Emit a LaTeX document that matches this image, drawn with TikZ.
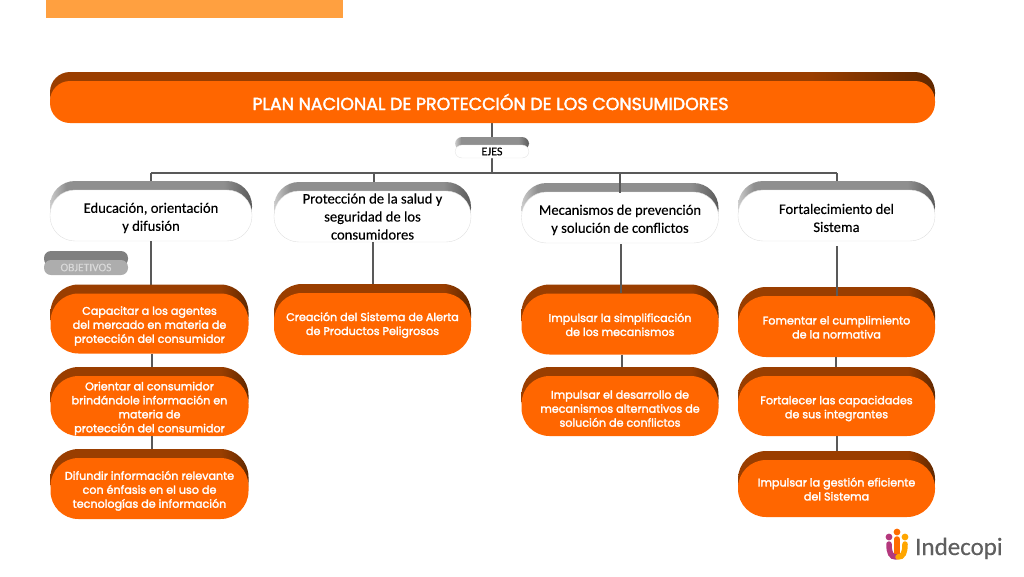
\documentclass[tikz,border=0pt]{standalone}
\usepackage{fontspec}
\setmainfont[FakeBold=0.25]{Carlito}
\newfontfamily\gothicfont[FakeBold=2.2]{Poppins}
\usetikzlibrary{shadows}
\definecolor{planorange}{HTML}{FF6600}
\definecolor{topbar}{HTML}{FFA040}
\definecolor{linegray}{HTML}{595959}
\definecolor{logogray}{HTML}{5F5F5F}
\definecolor{bandorange}{HTML}{9A3E00}
\definecolor{banddark}{HTML}{602800}
\definecolor{bandgray}{HTML}{8F8F8F}
\pgfdeclarehorizontalshading{orangeband}{100bp}{color(0bp)=(bandorange); color(25bp)=(bandorange); color(68bp)=(bandorange); color(75bp)=(banddark); color(100bp)=(banddark)}
\pgfdeclarehorizontalshading{grayband}{100bp}{color(0bp)=(black!20); color(25bp)=(black!20); color(29bp)=(bandgray); color(68bp)=(bandgray); color(75bp)=(black!65); color(100bp)=(black!65)}
% first line a little taller, pushes the block down in its box
\newcommand{\lift}[1][13.5pt]{\rule{0pt}{#1}}
\tikzset{%
	every capsule/.style={
		draw=none,
		align=center,
		inner sep=0pt
	},
	orangebox/.style={
		every capsule,
		rounded corners=28pt,
		fill=planorange,
		text=white,
		minimum width=198pt,
		font=\gothicfont\fontsize{11.15}{14}\selectfont,
		general shadow={shadow xshift=0pt, shadow yshift=9pt, shade, shading=orangeband}
	},
	whitebox/.style={
		every capsule,
		rounded corners=25pt,
		fill=white,
		draw=black!12,
		text=black,
		minimum width=198pt,
		font=\fontsize{14.6}{18}\selectfont,
		general shadow={shadow xshift=0pt, shadow yshift=9pt, draw=none, shade, shading=grayband}
	},
	planbox/.style={
		orangebox,
		rounded corners=20pt,
		font=\gothicfont\fontsize{17.4}{18}\selectfont
	},
	tagbox/.style={
		every capsule,
		rounded corners=7pt,
		font=\fontsize{12}{14}\selectfont
	},
	connector/.style={
		draw=linegray,
		line width=2pt
	}
}

\begin{document}
\begin{tikzpicture}[x=1pt,y=-1pt]
	\useasboundingbox (0,0) rectangle (1024,576);
	\fill[topbar] (46,0) rectangle (343,18);

	% Connectors under the boxes
	\coordinate (railleft) at (151,173);
	\coordinate (railright) at (837,173);
	\coordinate (railhealth) at (374,173);
	\coordinate (railprev) at (620,173);
	\coordinate (trunk) at (492,173);
	\draw[connector] (railleft) -- (railright);
	\draw[connector] (492,123) coordinate (plantop) -- (trunk);
	\draw[connector] (railleft) -- (151,185);
	\draw[connector] (railhealth) -- (374,188);
	\draw[connector] (railright) -- (837,185);

	% Plan
	\node[planbox, minimum width=885pt, minimum height=42pt] (plan) at (492.5,102) {PLAN NACIONAL DE PROTECCIÓN DE LOS CONSUMIDORES\hspace*{4pt}};

	% Tags
	\node[tagbox, fill=white, draw=black!10, minimum width=74pt, minimum height=13pt, general shadow={shadow xshift=0pt, shadow yshift=8pt, draw=none, shade, shading=grayband}] (ejes) at (492,151.5) {EJES};
	\node[tagbox, fill=black!32, text=black!15, minimum width=84pt, minimum height=15pt, font=\fontsize{11.5}{14}\selectfont, general shadow={shadow xshift=0pt, shadow yshift=9pt, fill=black!50}] (objetivos) at (86,267.5) {OBJETIVOS};

	% Ejes
	\node[whitebox, minimum width=202pt, minimum height=51pt] (edu) at (151,215.5) {\lift[15pt]Educación, orientación\\y difusión};
	\node[whitebox, minimum width=197pt, minimum height=51pt] (salud) at (372.5,216.5) {Protección de la salud y\\seguridad de los\\consumidores};
	\node[whitebox, minimum width=197pt, minimum height=51pt] (prev) at (620,217.5) {\lift[15pt]Mecanismos de prevención\\y solución de conflictos};
	\node[whitebox, minimum width=197pt, minimum height=51pt] (forta) at (836.5,215.5) {\lift[15pt]Fortalecimiento del\\Sistema};

	% Objetivos, columna 1
	\draw[connector] (edu.south) -- (edu.south |- 0,288);
	\node[orangebox, minimum height=60pt] (capa) at (149.5,323.5) {\lift Capacitar a los agentes\\del mercado en materia de\\protección del consumidor};
	\draw[connector] ([xshift=2pt]capa.south) -- ([xshift=2pt]capa.south |- 0,370);
	\node[orangebox, minimum height=60pt] (orien) at (149.5,406) {\lift Orientar al consumidor\\brindándole información en\\materia de\\protección del consumidor};
	\draw[connector] ([xshift=2pt]orien.south) -- ([xshift=2pt]orien.south |- 0,453);
	\node[orangebox, minimum height=61pt] (difu) at (149.5,488.5) {\lift Difundir información relevante\\con énfasis en el uso de\\tecnologías de información};

	% Objetivos, columna 2
	\draw[connector] (salud.south) -- (salud.south |- 0,288);
	\node[orangebox, minimum width=197pt, minimum height=62pt] (crea) at (372.5,324) {\lift[11pt]Creación del Sistema de Alerta\\de Productos Peligrosos};

	% Objetivos, columna 3
	\node[orangebox, minimum width=197pt, minimum height=61pt] (simpl) at (620,324) {\lift[10pt]Impulsar la simplificación\\de los mecanismos};
	\draw[connector] ([xshift=2pt]simpl.south) -- ([xshift=2pt]simpl.south |- 0,371);
	\node[orangebox, minimum width=197pt, minimum height=60pt] (desa) at (620,406) {\lift Impulsar el desarrollo de\\mecanismos alternativos de\\solución de conflictos};

	% Objetivos, columna 4
	\node[orangebox, minimum width=197pt, minimum height=61pt] (fome) at (836.5,326.5) {\lift[10pt]Fomentar el cumplimiento\\de la normativa};
	\draw[connector] ([xshift=-1pt]fome.south) -- ([xshift=-1pt]fome.south |- 0,370);
	\node[orangebox, minimum width=197pt, minimum height=60pt] (forte) at (836.5,406) {\lift Fortalecer las capacidades\\de sus integrantes};
	\draw[connector] (forte.south) -- (forte.south |- 0,454);
	\node[orangebox, minimum width=197pt, minimum height=57pt] (gest) at (836.5,488.5) {\lift[10pt]Impulsar la gestión eficiente\\del Sistema};

	% Connectors over the boxes
	\draw[connector] (railprev) -- (620,193);
	\draw[connector] ([xshift=1pt]prev.south) ++(0,1) -- ([xshift=1pt]simpl.north);
	\draw[connector] ([yshift=-5pt]forta.south) -- (forta.south |- fome.north);

	% Logo
	\node[text=logogray, font=\fontsize{25}{25}\selectfont, anchor=base west, inner sep=0pt] (logo) at (915,555) {Indecopi};
	\fill[orange!85!red] (897,532) circle (3.4pt);
	\fill[magenta!70!black] (889,537) circle (3.4pt);
	\fill[orange!70!yellow] (905,537) circle (3.4pt);
	\draw[orange!85!red, line width=5.5pt, line cap=round] (897,539) -- (897,555);
	\draw[magenta!70!black, line width=5.5pt, line cap=round] (889,544) .. controls (889,553) and (891,557) .. (896,557);
	\draw[orange!70!yellow, line width=5.5pt, line cap=round] (905,544) .. controls (905,553) and (903,557) .. (898,557);
\end{tikzpicture}
\end{document}
